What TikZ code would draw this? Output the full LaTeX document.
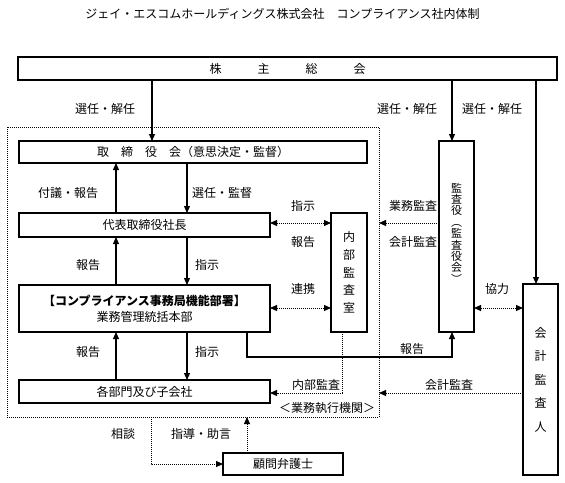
\documentclass[tikz,border=0pt]{standalone}
\usepackage{fontspec}
\newfontfamily\jp{Noto Sans CJK JP}
\usetikzlibrary{arrows.meta}
\begin{document}
\begin{tikzpicture}[x=1pt,y=-1pt,
  every node/.style={font=\jp\fontsize{12}{14}\selectfont, inner sep=0pt, outer sep=0pt},
  box/.style={draw, line width=1.2pt, rectangle},
  arr/.style={line width=1.1pt, -{Triangle[length=7pt,width=6pt]}},
  dotline/.style={line width=1pt, dash pattern=on 1pt off 1pt},
  darr/.style={dotline, -{Triangle[length=7pt,width=6pt]}},
  ddarr/.style={dotline, {Triangle[length=7pt,width=6pt]}-{Triangle[length=7pt,width=6pt]}}]
\useasboundingbox (0,0) rectangle (565,482);
% title
\node (title) at (282.5,14) {ジェイ・エスコムホールディングス株式会社　コンプライアンス社内体制};
% execution area (dotted)
\node[draw, dotline, minimum width=372pt, minimum height=290pt] (exec) at (193,272) {};
% boxes
\node[box, minimum width=539pt, minimum height=23pt] (kabu) at (287.5,68.5) {株　　　主　　　総　　　会};
\node[box, minimum width=348pt, minimum height=22pt] (tori) at (193,152) {取　締　役　会（意思決定・監督）};
\node[box, minimum width=251pt, minimum height=24pt] (daihyo) at (144.5,225) {代表取締役社長};
\node[box, minimum width=251pt, minimum height=47pt, align=center, font=\jp\fontsize{12}{16}\selectfont] (comp) at (144.5,308.5) {{\bfseries 【コンプライアンス事務局機能部署】}\\業務管理統括本部};
\node[box, minimum width=251pt, minimum height=23pt] (kakubu) at (144.5,391.5) {各部門及び子会社};
\node[box, minimum width=36pt, minimum height=119pt, align=center, font=\jp\fontsize{12}{17.75}\selectfont] (naibu) at (349,272.5) {内\\部\\監\\査\\室};
\node[box, minimum width=35pt, minimum height=191pt] (kansa) at (456.5,236.5) {};
\node[align=center, font=\jp\fontsize{11}{11.4}\selectfont] (kansatext) at (456.5,233) {監\\査\\役\\︵\\監\\査\\役\\会\\︶};
\node[box, minimum width=35pt, minimum height=191pt, align=center, font=\jp\fontsize{12}{23.5}\selectfont] (kaikei) at (540.5,379.5) {会\\計\\監\\査\\人};
\node[box, minimum width=120pt, minimum height=22pt] (komon) at (283,464) {顧問弁護士};
% helper coordinates
\coordinate (cA) at (152,0);
\coordinate (cU) at (116,0);
\coordinate (cD) at (187,0);
\coordinate (cK) at (452,0);
\coordinate (cKK) at (536,0);
\coordinate (cR) at (247,0);
\coordinate (cN) at (342,0);
\coordinate (cS) at (151,0);
\coordinate (r1) at (0,223);
\coordinate (r2) at (0,308);
\coordinate (r3) at (0,393);
\coordinate (r4) at (0,357);
% connectors
\draw[arr] (kabu.south -| cA) -- (tori.north -| cA);
\draw[arr] (kabu.south -| cK) -- (kansa.north -| cK);
\draw[arr] (kabu.south -| cKK) -- (kaikei.north -| cKK);
\draw[arr] (daihyo.north -| cU) -- (tori.south -| cU);
\draw[arr] (tori.south -| cD) -- (daihyo.north -| cD);
\draw[arr] (comp.north -| cU) -- (daihyo.south -| cU);
\draw[arr] (daihyo.south -| cD) -- (comp.north -| cD);
\draw[arr] (kakubu.north -| cU) -- (comp.south -| cU);
\draw[arr] (comp.south -| cD) -- (kakubu.north -| cD);
\draw[ddarr] (daihyo.east |- r1) -- (naibu.west |- r1);
\draw[ddarr] (comp.east |- r2) -- (naibu.west |- r2);
\draw[darr] (kansa.west |- r1) -- (exec.east |- r1);
\draw[ddarr] (kansa.east |- r2) -- (kaikei.west |- r2);
\draw[arr] (comp.south -| cR) -- (cR |- r4) -- (cK |- r4) -- (kansa.south -| cK);
\draw[darr] (naibu.south -| cN) |- (kakubu.east |- r3);
\draw[darr] (kaikei.west |- r3) -- (exec.east |- r3);
\draw[darr] (exec.south -| cS) |- (komon.west);
\draw[darr] (komon.north -| cR) -- (exec.south -| cR);
% labels
\node (l1) at (105,109) {選任・解任};
\node (l2) at (407,109) {選任・解任};
\node (l3) at (492,109) {選任・解任};
\node (l4) at (68,193) {付議・報告};
\node (l5) at (222,193) {選任・監督};
\node (l6) at (88,265) {報告};
\node (l7) at (207,265) {指示};
\node (l8) at (88,352) {報告};
\node (l9) at (207,352) {指示};
\node (l10) at (303,206) {指示};
\node (l11) at (303,242) {報告};
\node (l12) at (303,289) {連携};
\node (l13) at (413,206) {業務監査};
\node (l14) at (413,242) {会計監査};
\node (l15) at (497,289) {協力};
\node (l16) at (412,349) {報告};
\node (l17) at (316,385) {内部監査};
\node (l18) at (449,385) {会計監査};
\node (l19) at (327,408) {＜業務執行機関＞};
\node (l20) at (123,434) {相談};
\node (l21) at (201,434) {指導・助言};
\end{tikzpicture}
\end{document}
